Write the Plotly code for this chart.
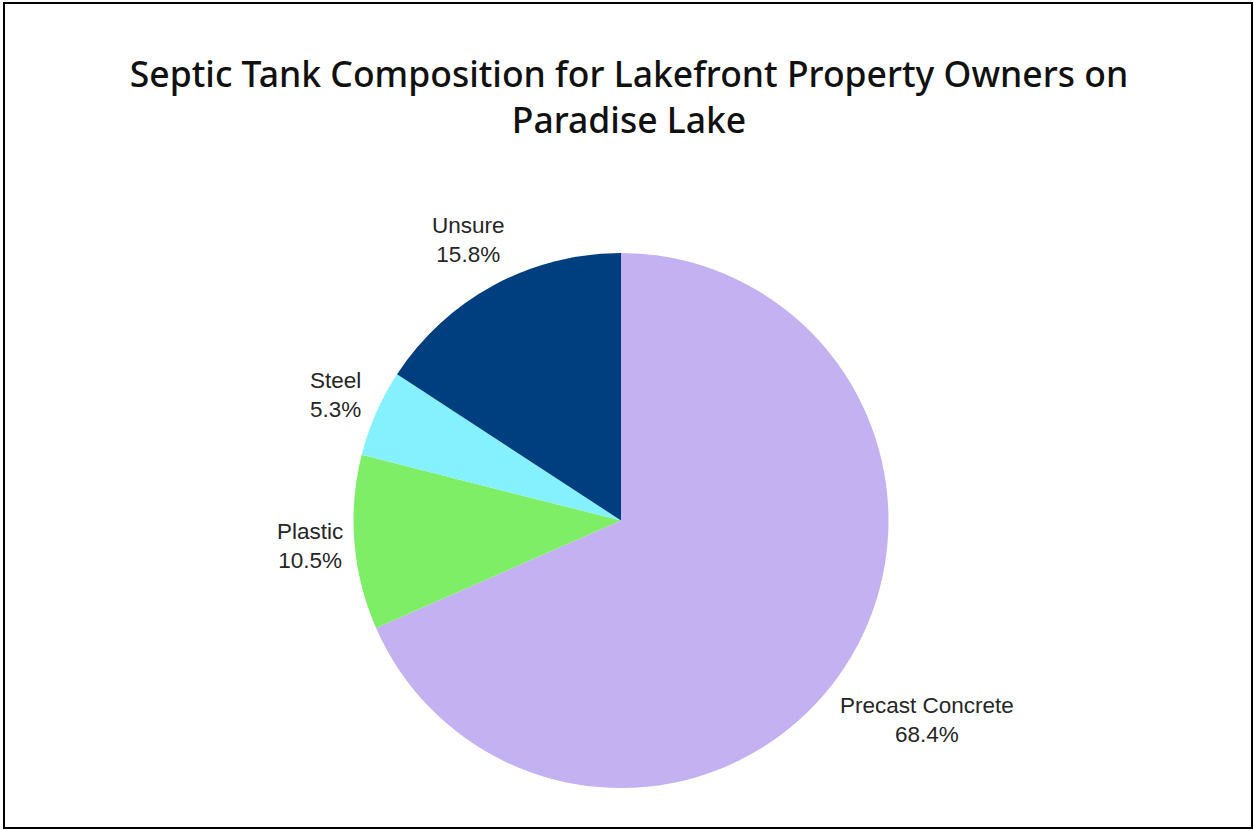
import math
import plotly.graph_objects as go

# Survey responses (counts of property owners by tank material)
materials = ["Precast Concrete", "Plastic", "Steel", "Unsure"]
owner_counts = [13, 2, 1, 3]
slice_colors = ["#C4B1F2", "#7FEE67", "#86F1FE", "#003F7F"]

W, H = 1254, 830
cx, cy, r = 621, 520.5, 267.5

LABEL_FONT = "Liberation Sans, Arial, sans-serif"
LABEL_SIZE = 22.5
LABEL_GAP = 9

# Arial/Liberation Sans advance widths (em units) for sizing the label boxes
ARIAL_W = {
    " ": .278, ".": .278, "%": .889, "P": .667, "S": .667, "U": .722, "C": .722,
    "a": .556, "c": .5, "e": .556, "i": .222, "l": .222, "n": .556, "o": .556,
    "r": .333, "s": .5, "t": .278, "u": .556,
}


def text_width(s, size):
    return sum(ARIAL_W.get(ch, .556) for ch in s) * size


fig = go.Figure(
    go.Pie(
        labels=materials,
        values=owner_counts,
        sort=False,
        direction="clockwise",
        rotation=0,
        marker=dict(colors=slice_colors, line=dict(width=0)),
        textinfo="none",
        showlegend=False,
        hoverinfo="label+value+percent",
        domain=dict(
            x=[(cx - r) / W, (cx + r) / W],
            y=[(H - (cy + r)) / H, (H - (cy - r)) / H],
        ),
    )
)

# Outside labels: placed along each slice's mid-angle, just clear of the rim
total = sum(owner_counts)
annotations = []
cum = 0.0
for name, count in zip(materials, owner_counts):
    frac = count / total
    mid = (cum + frac / 2) * 2 * math.pi  # clockwise from 12 o'clock
    cum += frac
    dx, dy = math.sin(mid), math.cos(mid)  # dy positive = up
    pct = f"{frac * 100:.1f}%"
    hw = max(text_width(name, LABEL_SIZE), text_width(pct, LABEL_SIZE)) / 2
    hh = 1.3 * LABEL_SIZE
    d = r + LABEL_GAP + abs(dx) * hw + abs(dy) * hh
    px = cx + d * dx
    py = cy - d * dy
    annotations.append(
        dict(
            x=px / W,
            y=1 - py / H,
            xref="paper",
            yref="paper",
            xanchor="center",
            yanchor="middle",
            text=f"{name}<br>{pct}",
            showarrow=False,
            align="center",
            font=dict(family=LABEL_FONT, size=LABEL_SIZE, color="#262626"),
        )
    )

fig.update_layout(
    width=W,
    height=H,
    margin=dict(l=0, r=0, t=0, b=0),
    paper_bgcolor="white",
    plot_bgcolor="white",
    title=dict(
        text="Septic Tank Composition for Lakefront Property Owners on<br>Paradise Lake",
        x=629 / W,
        xanchor="center",
        xref="container",
        y=1 - 87 / H,
        yanchor="top",
        yref="container",
        font=dict(family="Noto Sans, sans-serif", size=35.5, color="#111111", weight=500),
    ),
    annotations=annotations,
    shapes=[
        dict(
            type="rect",
            xref="paper",
            yref="paper",
            x0=4 / W,
            x1=1252 / W,
            y0=1 - 828 / H,
            y1=1 - 3 / H,
            line=dict(color="black", width=2),
            fillcolor="rgba(0,0,0,0)",
        )
    ],
)

fig.write_html("out.html")
